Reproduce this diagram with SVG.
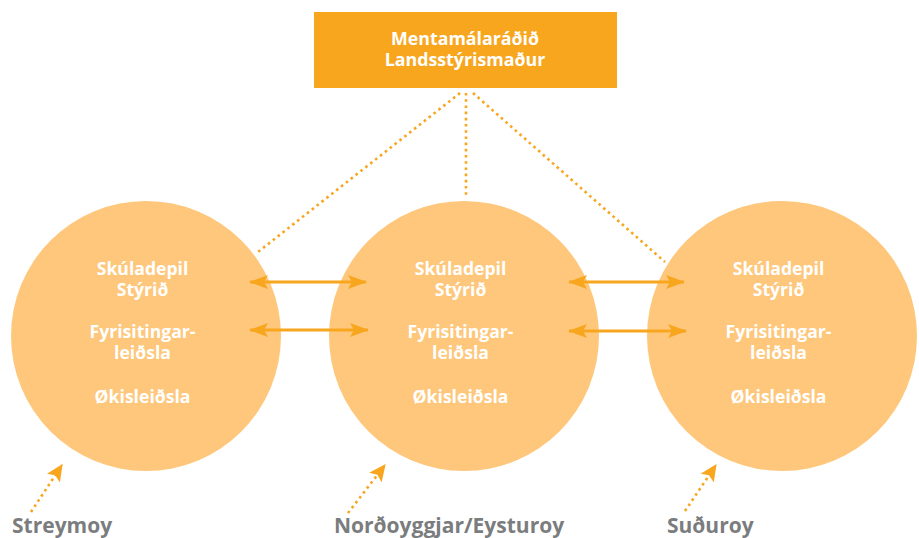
<svg xmlns="http://www.w3.org/2000/svg" width="919" height="538" viewBox="0 0 919 538">
<defs>
<style>
.circ{fill:#FEC77B}
.ct{font-family:"Open Sans","Liberation Sans",sans-serif;font-weight:bold;font-size:17.6px;fill:#ffffff;text-anchor:middle}
.bt{font-family:"Open Sans","Liberation Sans",sans-serif;font-weight:bold;font-size:17.8px;fill:#ffffff;text-anchor:middle}
.lbl{font-family:"Open Sans","Liberation Sans",sans-serif;font-weight:bold;font-size:21px;fill:#7B7C7E}
.dot{stroke:#F7A61E;stroke-width:2.6;stroke-dasharray:2.6 3.6;fill:none}
.arr{stroke:#F7A61E;stroke-width:3;fill:none}
</style>
<marker id="ah" markerUnits="userSpaceOnUse" markerWidth="20" markerHeight="16" refX="18" refY="7" orient="auto-start-reverse" viewBox="0 0 20 14">
<path d="M0,0 L19,7 L0,14 L4,7 z" fill="#F7A61E"/>
</marker>
<marker id="sh" markerUnits="userSpaceOnUse" markerWidth="18" markerHeight="16" refX="14" refY="7" orient="auto" viewBox="0 0 16 14">
<path d="M0,0 L15,7 L0,14 L3,7 z" fill="#F7A61E"/>
</marker>
</defs>
<rect width="919" height="538" fill="#ffffff"/>
<g id="connectors">
<path class="dot" d="M460,93 L258,252"/>
<path class="dot" d="M466,93 L466,198"/>
<path class="dot" d="M473,93 L665,262"/>
</g>
<g id="node-streymoy">
<circle class="circ" cx="146" cy="336" r="135"/>
<text class="ct" x="142.5" y="275">Skúladepil</text>
<text class="ct" x="142.5" y="296">Stýrið</text>
<text class="ct" x="142.5" y="338">Fyrisitingar-</text>
<text class="ct" x="142.5" y="359">leiðsla</text>
<text class="ct" x="142.5" y="403">Økisleiðsla</text>
</g>
<g id="node-nordoyggjar">
<circle class="circ" cx="464" cy="336" r="135"/>
<text class="ct" x="460.5" y="275">Skúladepil</text>
<text class="ct" x="460.5" y="296">Stýrið</text>
<text class="ct" x="460.5" y="338">Fyrisitingar-</text>
<text class="ct" x="460.5" y="359">leiðsla</text>
<text class="ct" x="460.5" y="403">Økisleiðsla</text>
</g>
<g id="node-suduroy">
<circle class="circ" cx="782" cy="336" r="135"/>
<text class="ct" x="778.5" y="275">Skúladepil</text>
<text class="ct" x="778.5" y="296">Stýrið</text>
<text class="ct" x="778.5" y="338">Fyrisitingar-</text>
<text class="ct" x="778.5" y="359">leiðsla</text>
<text class="ct" x="778.5" y="403">Økisleiðsla</text>
</g>
<g id="node-top">
<rect x="314" y="12" width="303" height="76" fill="#F7A61E"/>
<text class="bt" x="465" y="45">Mentamálaráðið</text>
<text class="bt" x="465" y="66">Landsstýrismaður</text>
</g>
<g id="arrows">
<line class="arr" x1="250" y1="282" x2="366" y2="282" marker-start="url(#ah)" marker-end="url(#ah)"/>
<line class="arr" x1="250" y1="330" x2="368" y2="330" marker-start="url(#ah)" marker-end="url(#ah)"/>
<line class="arr" x1="569" y1="282" x2="684" y2="282" marker-start="url(#ah)" marker-end="url(#ah)"/>
<line class="arr" x1="569" y1="331" x2="686" y2="331" marker-start="url(#ah)" marker-end="url(#ah)"/>
<path class="dot" d="M31,512 L62,465" marker-end="url(#sh)"/>
<path class="dot" d="M348,513 L385,465" marker-end="url(#sh)"/>
<path class="dot" d="M685,511 L716,465" marker-end="url(#sh)"/>
</g>
<g id="labels">
<text class="lbl" x="12" y="533">Streymoy</text>
<text class="lbl" x="334" y="533">Norðoyggjar/Eysturoy</text>
<text class="lbl" x="667" y="533">Suðuroy</text>
</g>
</svg>
